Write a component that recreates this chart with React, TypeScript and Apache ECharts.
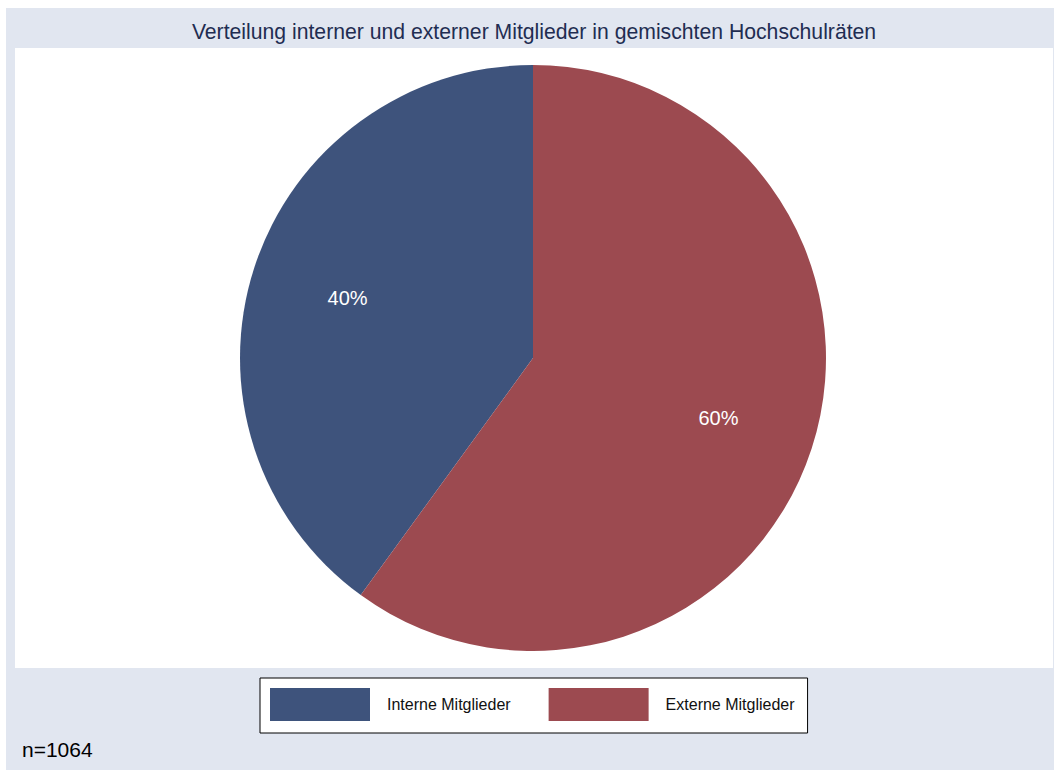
import React, { useEffect, useRef } from "react";
import * as echarts from "echarts";

const categories = ["Interne Mitglieder", "Externe Mitglieder"];
const shares = [40, 60];
const colors = ["#3e537c", "#9c4a50"];
const titleText = "Verteilung interner und externer Mitglieder in gemischten Hochschulräten";
const noteText = "n=1064";

export default function App() {
  const ref = useRef<HTMLDivElement>(null);
  useEffect(() => {
    if (!ref.current) return;
    const chart = echarts.init(ref.current, null, { renderer: "svg" });
    const data = categories.map((name, i) => ({ name, value: shares[i], itemStyle: { color: colors[i] } }));
    chart.setOption({
      animation: false,
      backgroundColor: "#ffffff",
      textStyle: { fontFamily: "Liberation Sans, Arial, sans-serif" },
      title: [
        {
          text: titleText,
          left: 534,
          top: 21,
          padding: 0,
          textAlign: "center",
          textStyle: { fontSize: 21.2, fontWeight: "normal", color: "#1f2d52" },
        },
        {
          text: noteText,
          left: 22,
          top: 739,
          padding: 0,
          textStyle: { fontSize: 21, fontWeight: "normal", color: "#000000" },
        },
      ],
      graphic: [
        { type: "rect", z: -10, shape: { x: 6, y: 8, width: 1048, height: 762 }, style: { fill: "#e1e6f0" }, silent: true },
        { type: "rect", z: -9, shape: { x: 15, y: 48, width: 1038, height: 620 }, style: { fill: "#ffffff" }, silent: true },
      ],
      legend: {
        data: categories,
        left: 260,
        top: 678,
        orient: "horizontal",
        icon: "rect",
        itemWidth: 100,
        itemHeight: 33,
        itemGap: 38,
        padding: [10, 13, 12, 10],
        borderColor: "#000000",
        borderWidth: 1,
        backgroundColor: "#ffffff",
        selectedMode: false,
        textStyle: { fontSize: 16, color: "#111111", padding: [0, 0, 0, 12] },
      },
      series: [
        {
          type: "pie",
          center: [533, 358],
          radius: [0, 293],
          startAngle: 90,
          clockwise: false,
          silent: true,
          label: { show: false },
          labelLine: { show: false },
          itemStyle: { borderWidth: 0 },
          data,
        },
        {
          type: "pie",
          center: [533, 358],
          radius: [96, 288],
          startAngle: 90,
          clockwise: false,
          silent: true,
          z: 3,
          labelLine: { show: false },
          itemStyle: { color: "rgba(0,0,0,0)", borderWidth: 0 },
          label: {
            show: true,
            position: "inside",
            formatter: (p: any) => `${p.value}%`,
            color: "#ffffff",
            fontSize: 20,
            fontFamily: "Liberation Sans, Arial, sans-serif",
          },
          data: categories.map((name, i) => ({ name, value: shares[i] })),
        },
      ],
    });
    return () => chart.dispose();
  }, []);
  return (
    <div
      ref={ref}
      style={{ position: "absolute", left: 0, top: 0, width: 1054, height: 772 }}
    />
  );
}
